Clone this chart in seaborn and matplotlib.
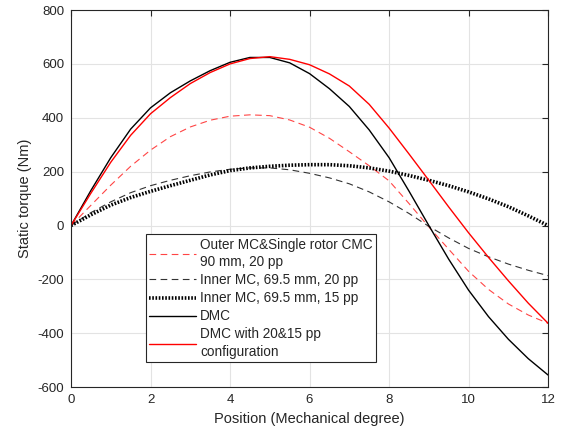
import numpy as np
import pandas as pd
import matplotlib
matplotlib.use("Agg")
import matplotlib.pyplot as plt
import seaborn as sns

# mechanical position (deg), every 0.5 deg
position = [0, 0.5, 1, 1.5, 2, 2.5, 3, 3.5, 4, 4.5, 5, 5.5, 6,
            6.5, 7, 7.5, 8, 8.5, 9, 9.5, 10, 10.5, 11, 11.5, 12]

outer_mc = [0, 75, 150, 220, 280, 330, 366, 391, 406, 411, 408, 392, 365,
            324, 274, 222, 166, 82, -5, -88, -170, -237, -291, -332, -363]
inner_mc_20 = [0, 48, 88, 122, 148, 168, 185, 199, 209, 214, 214, 207, 194,
               177, 155, 125, 88, 45, -3, -46, -85, -116, -143, -166, -186]
inner_mc_15 = [0, 40, 76, 104, 127, 148, 168, 188, 204, 214, 220, 224, 226,
               226, 222, 214, 202, 186, 168, 148, 125, 99, 70, 36, 0]
dmc = [0, 130, 252, 358, 437, 493, 537, 575, 606, 624, 624, 604, 564,
       508, 442, 355, 252, 128, 0, -125, -240, -338, -422, -494, -555]
dmc_2015 = [0, 120, 235, 335, 415, 475, 527, 568, 600, 620, 627, 617, 597,
            563, 518, 450, 362, 266, 168, 69, -27, -118, -205, -288, -363]

labels = ["Outer MC&Single rotor CMC\n90 mm, 20 pp",
          "Inner MC, 69.5 mm, 20 pp",
          "Inner MC, 69.5 mm, 15 pp",
          "DMC",
          "DMC with 20&15 pp\nconfiguration"]

df = pd.DataFrame({"pos": position, "outer": outer_mc, "in20": inner_mc_20,
                   "in15": inner_mc_15, "dmc": dmc, "dmc2015": dmc_2015})

sns.set_style("whitegrid")
plt.rcParams["font.family"] = ["Liberation Sans", "DejaVu Sans"]
plt.rcParams["axes.unicode_minus"] = False

fig = plt.figure(figsize=(5.68, 4.37), dpi=100)
ax = fig.add_axes([0.125, 0.114, 0.840, 0.863])

sns.lineplot(data=df, x="pos", y="outer", ax=ax, color="#ff4545", lw=0.8,
             label=labels[0]).lines[-1].set_dashes([6, 4])
sns.lineplot(data=df, x="pos", y="in20", ax=ax, color="#333333", lw=0.8,
             label=labels[1]).lines[-1].set_dashes([6, 4])
sns.lineplot(data=df, x="pos", y="in15", ax=ax, color="black", lw=2.6,
             label=labels[2]).lines[-1].set_dashes([0.45, 0.45])
sns.lineplot(data=df, x="pos", y="dmc", ax=ax, color="black", lw=1.0,
             label=labels[3])
sns.lineplot(data=df, x="pos", y="dmc2015", ax=ax, color="#ff0000", lw=1.0,
             label=labels[4])

ax.set_xlim(0, 12)
ax.set_ylim(-600, 800)
ax.set_xticks(range(0, 13, 2))
ax.set_yticks(range(-600, 801, 200))
ax.grid(True, color="#e3e3e3", lw=0.8)
for s in ax.spines.values():
    s.set_color("#262626")
    s.set_linewidth(0.8)
ax.tick_params(direction="in", top=True, right=True, length=4, width=0.8,
               color="#262626", labelsize=9.5, labelcolor="#262626", pad=5)
ax.set_xlabel("Position (Mechanical degree)", fontsize=10.5, color="#262626")
ax.set_ylabel("Static torque (Nm)", fontsize=10.5, color="#262626")

leg = ax.legend(loc="upper left", bbox_to_anchor=(0.157, 0.405), fontsize=9.8,
                frameon=True, fancybox=False, handlelength=3.4,
                borderaxespad=0, labelspacing=0.3, handletextpad=0.35,
                borderpad=0.25)
for t in leg.get_texts():
    t.set_linespacing(1.3)
leg.get_frame().set_edgecolor("#262626")
leg.get_frame().set_linewidth(0.8)
leg.get_frame().set_alpha(1)

fig.savefig("out.png", dpi=100)
